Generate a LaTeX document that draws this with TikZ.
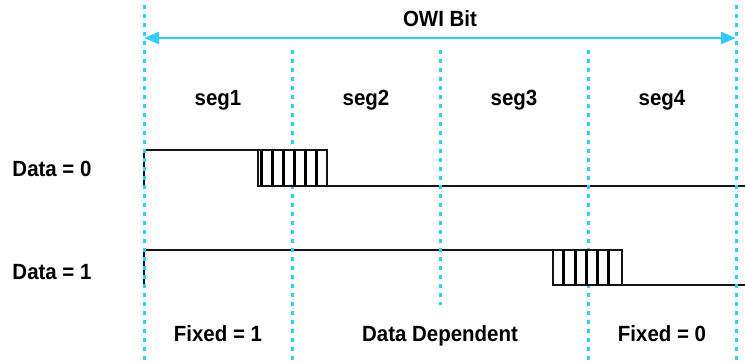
\documentclass[tikz,border=0pt]{standalone}
\usepackage{fontspec}
\setmainfont{Liberation Sans}[FakeStretch=0.93]
\usetikzlibrary{arrows.meta}
\definecolor{owiblue}{RGB}{51,204,255}
\definecolor{wave}{RGB}{20,20,20}
\tikzset{
  lbl/.style={anchor=base, inner sep=0pt, font=\fontsize{22}{26}\selectfont\bfseries},
  guide/.style={draw=owiblue, line width=3pt, dash pattern=on 4.5pt off 4.5pt},
  sig/.style={draw=wave, line width=1.8pt},
  hatchbox/.style={draw=wave, line width=1.8pt, fill=white},
  hatch/.style={draw=black, line width=3pt},
  span/.style={draw=owiblue, line width=2.2pt, {Triangle[length=15pt,width=12pt]}-{Triangle[length=15pt,width=12pt]}}
}
\begin{document}
\begin{tikzpicture}[x=1pt,y=-1pt]
\useasboundingbox (0,0) rectangle (745,363);
% guide coordinates
\coordinate (g0t) at (144,5);   \coordinate (g0b) at (144,363);
\coordinate (g1t) at (292,50);  \coordinate (g1b) at (292,363);
\coordinate (g2t) at (440,50);  \coordinate (g2b) at (440,305);
\coordinate (g3t) at (588,50);  \coordinate (g3b) at (588,363);
\coordinate (g4t) at (736,5);   \coordinate (g4b) at (736,363);
\coordinate (al) at (144,38);   \coordinate (ar) at (736,38);
% waveform Data = 0
\coordinate (a0) at (144,186); \coordinate (a1) at (144,150); \coordinate (a2) at (258,150);
\coordinate (a3) at (327,186); \coordinate (a4) at (745,186);
\draw[sig] (a0) -- (a1) -- (a2);
\draw[sig] (a3) -- (a4);
% waveform Data = 1
\coordinate (b0) at (144,285); \coordinate (b1) at (144,250); \coordinate (b2) at (553,250);
\coordinate (b3) at (622,285); \coordinate (b4) at (745,285);
\draw[sig] (b0) -- (b1) -- (b2);
\draw[sig] (b3) -- (b4);
% guides
\draw[guide] (g0t) -- (g0b);
\draw[guide] (g1t) -- (g1b);
\draw[guide] (g2t) -- (g2b);
\draw[guide] (g3t) -- (g3b);
\draw[guide] (g4t) -- (g4b);
% span arrow
\draw[span] (al) -- (ar);
% hatched boxes
\draw[hatchbox] (a2) rectangle (a3);
\foreach \x in {261,272,283,294.3,305.7,316.7} \draw[hatch] (\x,150) -- (\x,186);
\draw[hatchbox] (b2) rectangle (b3);
\foreach \x in {563.3,575,586,597.7,608.7} \draw[hatch] (\x,250) -- (\x,285);
% labels
\node[lbl] (owi) at (440,27) {OWI Bit};
\node[lbl] (s1) at (218,106) {seg1};
\node[lbl] (s2) at (366,106) {seg2};
\node[lbl] (s3) at (514,106) {seg3};
\node[lbl] (s4) at (662,106) {seg4};
\node[lbl] (d0) at (52,177) {Data = 0};
\node[lbl] (d1) at (52,280) {Data = 1};
\node[lbl] (f1) at (218,342) {Fixed = 1};
\node[lbl] (dd) at (440,342) {Data Dependent};
\node[lbl] (f0) at (662,342) {Fixed = 0};
\end{tikzpicture}
\end{document}
